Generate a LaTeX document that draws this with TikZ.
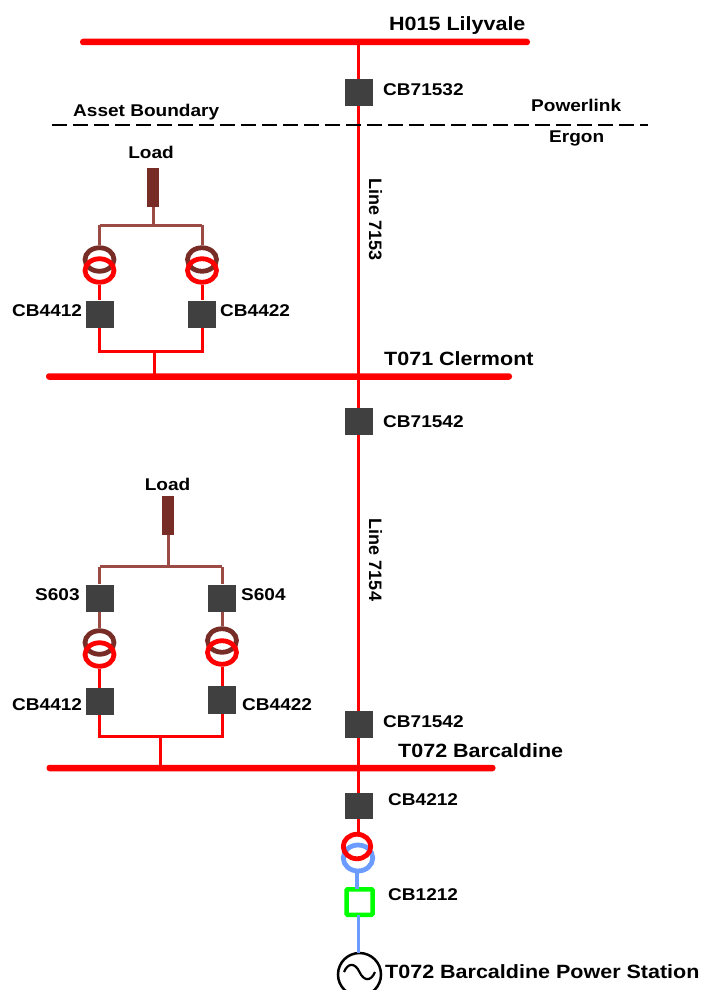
\documentclass[tikz,border=0pt]{standalone}
\usepackage{fontspec}
\setmainfont[FakeStretch=1.12]{Liberation Sans}
\newfontfamily\plainlbl{Liberation Sans}
\usetikzlibrary{shapes.geometric}
\definecolor{brk}{HTML}{404040}
\definecolor{lnbrown}{HTML}{9C4A44}
\definecolor{dkbrown}{HTML}{772C26}
\definecolor{hvblue}{HTML}{6C9CFF}
\tikzset{
  lbl/.style={font=\bfseries\fontsize{17}{20}\selectfont,text=black,inner sep=0pt,anchor=west},
  biglbl/.style={font=\bfseries\fontsize{19.2}{22}\selectfont,text=black,inner sep=0pt,anchor=west},
  lblc/.style={font=\bfseries\fontsize{17}{20}\selectfont,text=black,inner sep=0pt},
  lblv/.style={font=\plainlbl\bfseries\fontsize{18}{20}\selectfont,text=black,inner sep=0pt,rotate=-90},
  busbar/.style={fill=red,rounded corners=3pt,minimum height=6.5pt,inner sep=0pt},
  breaker/.style={fill=brk,minimum width=28pt,minimum height=27pt,inner sep=0pt},
  loadbox/.style={fill=dkbrown,minimum width=12pt,minimum height=39pt,inner sep=0pt},
  wind/.style={ellipse,draw,line width=4.8pt,minimum width=29pt,minimum height=23.5pt,inner sep=0pt},
  redline/.style={draw=red,line width=3pt},
  brownline/.style={draw=lnbrown,line width=3pt},
  blueline/.style={draw=hvblue,line width=3.5pt},
}
\begin{document}
\begin{tikzpicture}[x=1pt,y=-1pt]
\useasboundingbox (0,0) rectangle (703,990);
% buses
\node[busbar,minimum width=450pt] (bus1) at (305,42) {};
\node[busbar,minimum width=466pt] (bus2) at (279,376.5) {};
\node[busbar,minimum width=449pt] (bus3) at (271,768) {};
% named junctions
\coordinate (top) at (358.5,42);
\coordinate (m72) at (358.5,768);
% main column breakers
\node[breaker] (cb1) at (358.5,92) {};
\node[breaker] (cb2) at (358.5,421) {};
\node[breaker] (cb3) at (358.5,724) {};
\node[breaker,minimum height=26pt] (cb4) at (358.5,806) {};
% main line
\draw[redline] (top) -- (cb1.center);
\draw[redline] (cb1.center) -- (cb2.center);
\draw[redline] (cb2.center) -- (cb3.center);
\draw[redline] (cb3.center) -- (m72);
\draw[redline] (m72) -- (cb4.center);
\node[breaker] at (cb1) {};
\node[breaker] at (cb2) {};
\node[breaker] at (cb3) {};
\node[breaker,minimum height=26pt] at (cb4) {};
% asset boundary
\coordinate (ab1) at (52,125);
\coordinate (ab2) at (648,125);
\draw[black,line width=2.6pt,dash pattern=on 14.5pt off 6.5pt] (ab1) -- (ab2);
% upper load group
\node[loadbox] (load1) at (153,187.5) {};
\coordinate (j1) at (153,225);
\coordinate (j1l) at (99.5,225);
\coordinate (j1r) at (202,225);
\node[wind,draw=dkbrown] (t1lb) at (99.5,259.5) {};
\node[wind,draw=dkbrown] (t1rb) at (202,259.5) {};
\node[breaker] (cb41) at (99.5,314) {};
\node[breaker] (cb42) at (202,314) {};
\coordinate (b1l) at (99.5,351);
\coordinate (b1r) at (202,351);
\coordinate (b1m) at (154,351);
\coordinate (b1s) at (154,376.5);
\draw[brownline] (load1.south) -- (j1);
\draw[brownline] (j1l) -- (j1r);
\draw[brownline] (j1l) -- (t1lb.north);
\draw[brownline] (j1r) -- (t1rb.north);
\node[wind,draw=red] (t1lr) at (99.5,270.5) {};
\node[wind,draw=red] (t1rr) at (202,270.5) {};
\draw[redline] (t1lr.south) -- (cb41.north);
\draw[redline] (t1rr.south) -- (cb42.north);
\draw[redline] (cb41.south) -- (b1l) -- (b1r) -- (cb42.south);
\draw[redline] (b1m) -- (b1s);
% lower load group
\node[loadbox] (load2) at (168,515.5) {};
\coordinate (j2) at (168,566.5);
\coordinate (j2l) at (99.5,566.5);
\coordinate (j2r) at (222,566.5);
\node[breaker] (s603) at (99.5,598) {};
\node[breaker] (s604) at (222,598) {};
\node[wind,draw=dkbrown] (t2lb) at (99.5,642.5) {};
\node[wind,draw=dkbrown] (t2rb) at (222,640.5) {};
\node[breaker] (cb43) at (99.5,701.5) {};
\node[breaker,minimum height=28pt] (cb44) at (222,700) {};
\coordinate (b2l) at (99.5,736.5);
\coordinate (b2r) at (222,736.5);
\coordinate (b2m) at (160.5,736.5);
\coordinate (b2s) at (160.5,768);
\draw[brownline] (load2.south) -- (j2);
\draw[brownline] (j2l) -- (j2r);
\draw[brownline] (j2l) -- (s603.north);
\draw[brownline] (j2r) -- (s604.north);
\draw[brownline] (s603.south) -- (t2lb.north);
\draw[brownline] (s604.south) -- (t2rb.north);
\node[wind,draw=red] (t2lr) at (99.5,654.5) {};
\node[wind,draw=red] (t2rr) at (222,652.5) {};
\draw[redline] (t2lr.south) -- (cb43.north);
\draw[redline] (t2rr.south) -- (cb44.north);
\draw[redline] (cb43.south) -- (b2l) -- (b2r) -- (cb44.south);
\draw[redline] (b2m) -- (b2s);
% station
\node[wind,draw=hvblue,minimum width=29.5pt,minimum height=26pt] (t3b) at (358,858) {};
\node[wind,draw=red,minimum width=27.5pt,minimum height=24.5pt] (t3r) at (357,846.5) {};
\node[draw=green,line width=4.5pt,rounded corners=1pt,fill=white,minimum width=26pt,minimum height=25.5pt,inner sep=0pt] (cb5) at (359.5,902) {};
\node[circle,draw=black,line width=2.5pt,fill=white,minimum size=43pt,inner sep=0pt] (gen) at (359.5,974.5) {};
\coordinate (rs) at (358.5,834);
\coordinate (bs1) at (356.8,872);
\coordinate (bs2) at (356.8,889);
\coordinate (bs3) at (358.3,915);
\coordinate (bs4) at (358.3,953);
\draw[redline] (cb4.south) -- (rs);
\draw[blueline] (bs1) -- (bs2);
\draw[blueline] (bs3) -- (bs4);
\coordinate (w1) at (344,972);
\coordinate (w2) at (359.5,972);
\coordinate (w3) at (375,972);
\draw[black,line width=2.2pt] (w1) .. controls (348,962.5) and (355,962.5) .. (w2) .. controls (364,981.5) and (371,981.5) .. (w3);
% labels
\node[biglbl] (lb1) at (389,25.5) {H015 Lilyvale};
\node[lbl] (lb2) at (383,90) {CB71532};
\node[lbl] (lb3) at (73,112) {Asset Boundary};
\node[lbl] (lb4) at (531,105.5) {Powerlink};
\node[lbl] (lb5) at (549,138) {Ergon};
\node[lblc] (lb6) at (151,152.5) {Load};
\node[lbl] (lb7) at (12,311) {CB4412};
\node[lbl] (lb8) at (220,311) {CB4422};
\node[biglbl] (lb9) at (384,359) {T071 Clermont};
\node[lbl] (lb10) at (383,422) {CB71542};
\node[lblv] (lb11) at (375.5,219.5) {Line 7153};
\node[lblv] (lb12) at (375.5,560) {Line 7154};
\node[lblc] (lb13) at (167.5,484.5) {Load};
\node[lbl] (lb14) at (35,595) {S603};
\node[lbl] (lb15) at (241,595) {S604};
\node[lbl] (lb16) at (12,705) {CB4412};
\node[lbl] (lb17) at (242,705) {CB4422};
\node[lbl] (lb18) at (383,722) {CB71542};
\node[biglbl] (lb19) at (398,751) {T072 Barcaldine};
\node[lbl] (lb20) at (388,800) {CB4212};
\node[lbl] (lb21) at (388,895) {CB1212};
\node[biglbl] (lb22) at (385,971.5) {T072 Barcaldine Power Station};
\end{tikzpicture}
\end{document}
